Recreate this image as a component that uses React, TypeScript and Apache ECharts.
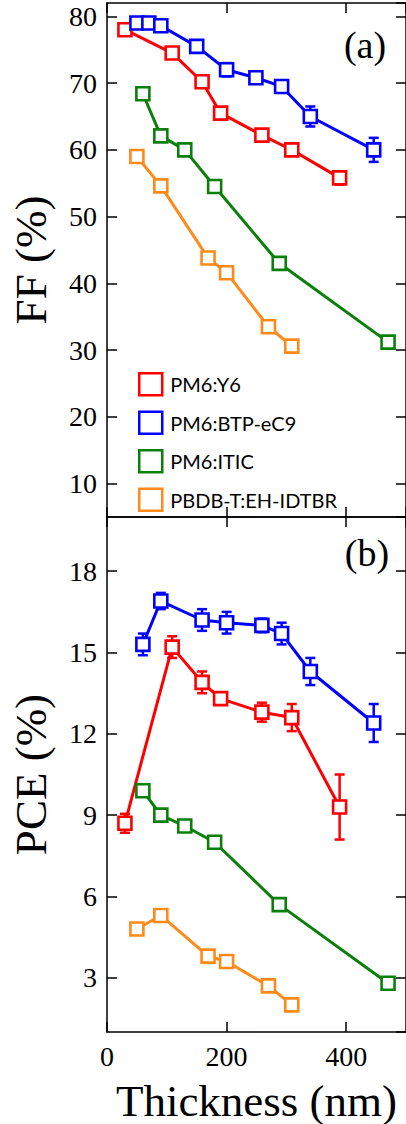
import React, { useEffect, useRef } from "react";
import * as echarts from "echarts";

// ---- data ----
const seriesNames = ["PM6:Y6", "PM6:BTP-eC9", "PM6:ITIC", "PBDB-T:EH-IDTBR"];
const seriesColors = ["#ff0000", "#0000ff", "#0a800a", "#ff8a1a"];

const thickY6 = [30, 109, 159, 190, 259, 309, 389];
const ffY6 = [78.0, 74.5, 70.2, 65.5, 62.2, 60.0, 55.8];
const ffY6Err = [0.4, 0.6, 0.9, 0.5, 0.6, 0.5, 1.0];
const pceY6 = [8.7, 15.2, 13.9, 13.3, 12.8, 12.6, 9.3];
const pceY6Err = [0.35, 0.4, 0.4, 0.15, 0.35, 0.5, 1.2];

const thickBtpFF = [50, 70, 90, 150, 200, 249, 292, 340, 446];
const ffBtp = [79.0, 79.0, 78.6, 75.5, 72.0, 70.8, 69.5, 65.0, 60.0];
const ffBtpErr = [0.4, 0.4, 0.5, 0.8, 1.0, 0.7, 0.7, 1.5, 1.8];
const thickBtpPCE = [60, 90, 159, 200, 259, 292, 340, 446];
const pceBtp = [15.3, 16.9, 16.2, 16.1, 16.0, 15.7, 14.3, 12.4];
const pceBtpErr = [0.4, 0.3, 0.4, 0.4, 0.25, 0.4, 0.5, 0.7];

const thickItic = [60, 90, 130, 180, 288, 470];
const ffItic = [68.4, 62.1, 60.0, 54.5, 43.0, 31.2];
const ffIticErr = [0.3, 0.3, 0.3, 0.5, 0.3, 0.3];
const pceItic = [9.9, 9.0, 8.6, 8.0, 5.7, 2.8];
const pceIticErr = [0.15, 0.1, 0.15, 0.1, 0.2, 0.1];

const thickEh = [50, 90, 169, 200, 270, 309];
const ffEh = [59.0, 54.6, 43.8, 41.6, 33.5, 30.6];
const ffEhErr = [0.3, 0.4, 0.3, 0.3, 0.4, 0.4];
const pceEh = [4.8, 5.3, 3.8, 3.6, 2.7, 2.0];
const pceEhErr = [0.2, 0.2, 0.2, 0.2, 0.1, 0.2];

const ffXs = [thickY6, thickBtpFF, thickItic, thickEh];
const ffYs = [ffY6, ffBtp, ffItic, ffEh];
const ffErrs = [ffY6Err, ffBtpErr, ffIticErr, ffEhErr];
const pceXs = [thickY6, thickBtpPCE, thickItic, thickEh];
const pceYs = [pceY6, pceBtp, pceItic, pceEh];
const pceErrs = [pceY6Err, pceBtpErr, pceIticErr, pceEhErr];

const SERIF = "Liberation Serif";

function errorSeries(xs: number[], ys: number[], es: number[], color: string, gi: number) {
  return {
    type: "custom",
    name: "err" + gi + color,
    xAxisIndex: gi * 2,
    yAxisIndex: gi * 2,
    z: 1,
    encode: { x: 0, y: 1 },
    data: xs.map((x, i) => [x, ys[i], es[i]]),
    renderItem: (params: any, api: any) => {
      const x = api.value(0);
      const y = api.value(1);
      const e = api.value(2);
      const t = api.coord([x, y + e]);
      const b = api.coord([x, y - e]);
      const w = 5;
      const st = { stroke: color, lineWidth: 2.5 };
      return {
        type: "group",
        children: [
          { type: "line", shape: { x1: t[0], y1: t[1], x2: b[0], y2: b[1] }, style: st },
          { type: "line", shape: { x1: t[0] - w, y1: t[1], x2: t[0] + w, y2: t[1] }, style: st },
          { type: "line", shape: { x1: b[0] - w, y1: b[1], x2: b[0] + w, y2: b[1] }, style: st },
        ],
      };
    },
  };
}

function lineSeries(name: string, xs: number[], ys: number[], color: string, gi: number) {
  return {
    type: "line",
    name,
    xAxisIndex: gi * 2,
    yAxisIndex: gi * 2,
    z: 3,
    data: xs.map((x, i) => [x, ys[i]]),
    symbol: "rect",
    symbolSize: 13,
    lineStyle: { color, width: 3 },
    itemStyle: { color: "#ffffff", borderColor: color, borderWidth: 2.6 },
    emphasis: { disabled: true },
  };
}

const axisLine = { show: true, onZero: false, lineStyle: { color: "#000", width: 1.5 } };
const axisTick = { show: true, inside: true, length: 10, lineStyle: { color: "#000", width: 1.5 } };

export default function App() {
  const ref = useRef<HTMLDivElement>(null);
  useEffect(() => {
    if (!ref.current) return;
    const chart = echarts.init(ref.current, undefined, { renderer: "svg" });
    const grids = [
      { left: 107, top: 3, width: 301.5, height: 514 },
      { left: 107, top: 517, width: 301.5, height: 515 },
    ];
    const xAxes: any[] = [];
    const yAxes: any[] = [];
    [0, 1].forEach((gi) => {
      xAxes.push({
        type: "value",
        gridIndex: gi,
        position: "bottom",
        min: 0,
        max: 500,
        interval: 200,
        axisLine,
        axisTick,
        splitLine: { show: false },
        axisLabel: {
          show: gi === 1,
          showMaxLabel: false,
          margin: 10,
          fontFamily: SERIF,
          fontSize: 28,
          color: "#000",
        },
        name: gi === 1 ? "Thickness (nm)" : "",
        nameLocation: "middle",
        nameGap: 46,
        nameTextStyle: { fontFamily: SERIF, fontSize: 45, color: "#000" },
      });
      xAxes.push({
        type: "value",
        gridIndex: gi,
        position: "top",
        min: 0,
        max: 500,
        interval: 200,
        axisLine,
        axisTick,
        splitLine: { show: false },
        axisLabel: { show: false },
      });
      const isTop = gi === 0;
      const ymin = isTop ? 5 : 1;
      const ymax = isTop ? 82 : 20;
      const step = isTop ? 10 : 3;
      const lo = isTop ? 10 : 3;
      const hi = isTop ? 80 : 18;
      yAxes.push({
        type: "value",
        gridIndex: gi,
        position: "left",
        min: ymin,
        max: ymax,
        splitNumber: isTop ? 8 : 6,
        axisLine,
        axisTick,
        splitLine: { show: false },
        axisLabel: {
          margin: 10,
          fontFamily: SERIF,
          fontSize: 28,
          color: "#000",
          showMinLabel: false,
          showMaxLabel: false,
          formatter: (v: number) => (v % step === 0 && v >= lo && v <= hi ? String(v) : ""),
        },
        name: isTop ? "FF (%)" : "PCE (%)",
        nameLocation: "middle",
        nameRotate: 90,
        nameGap: 54,
        nameTextStyle: { fontFamily: SERIF, fontSize: 45, color: "#000" },
      });
      yAxes.push({
        type: "value",
        gridIndex: gi,
        position: "right",
        min: ymin,
        max: ymax,
        splitNumber: isTop ? 8 : 6,
        axisLine,
        axisTick,
        splitLine: { show: false },
        axisLabel: { show: false },
      });
    });

    const series: any[] = [];
    seriesNames.forEach((n, i) => {
      series.push(errorSeries(ffXs[i], ffYs[i], ffErrs[i], seriesColors[i], 0));
      series.push(errorSeries(pceXs[i], pceYs[i], pceErrs[i], seriesColors[i], 1));
    });
    seriesNames.forEach((n, i) => {
      series.push(lineSeries(n, ffXs[i], ffYs[i], seriesColors[i], 0));
      series.push(lineSeries(n, pceXs[i], pceYs[i], seriesColors[i], 1));
    });

    chart.setOption({
      animation: false,
      backgroundColor: "#ffffff",
      grid: grids,
      xAxis: xAxes,
      yAxis: yAxes,
      legend: {
        orient: "vertical",
        left: 133,
        top: 367,
        icon: "rect",
        itemWidth: 23,
        itemHeight: 22,
        itemGap: 14,
        selectedMode: false,
        textStyle: { fontFamily: "Lato", fontSize: 20, color: "#000", padding: [0, 0, 0, 3] },
        data: seriesNames.map((n, i) => ({
          name: n,
          itemStyle: { color: "#ffffff", borderColor: seriesColors[i], borderWidth: 2.5 },
        })),
      },
      graphic: [
        {
          type: "text",
          x: 365,
          y: 45,
          style: {
            text: "(a)",
            fontFamily: SERIF,
            fontSize: 38,
            fill: "#000",
            align: "center",
            verticalAlign: "middle",
          },
        },
        {
          type: "text",
          x: 367,
          y: 553,
          style: {
            text: "(b)",
            fontFamily: SERIF,
            fontSize: 38,
            fill: "#000",
            align: "center",
            verticalAlign: "middle",
          },
        },
      ],
      series,
    });
    return () => chart.dispose();
  }, []);
  return (
    <div
      ref={ref}
      style={{ position: "fixed", left: 0, top: 0, width: 406, height: 1124, background: "#fff" }}
    />
  );
}
